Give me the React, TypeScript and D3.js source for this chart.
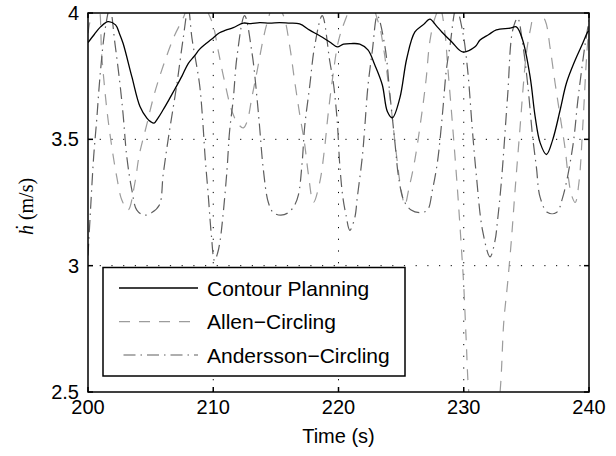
import React from 'react';
import * as d3 from 'd3';

// Axis ticks
const X_TICKS = [200, 210, 220, 230, 240];
const Y_TICKS = [2.5, 3, 3.5, 4];
const Y_TICK_LABELS = ['2.5', '3', '3.5', '4'];

// Contour Planning: time (s) and climb rate (m/s)
const CONTOUR_T = [200.0, 200.5, 201.0, 201.6, 202.2, 202.5, 202.8, 203.5, 204.15, 204.7, 205.0, 205.27, 205.6, 206.0, 206.5, 206.95, 207.5, 208.0, 208.5, 208.9, 209.4, 209.86, 210.5, 211.0, 211.6, 212.4, 213.0, 213.7, 214.5, 215.3, 216.0, 216.9, 217.7, 218.5, 219.3, 219.9, 220.4, 221.0, 221.7, 222.35, 222.9, 223.5, 223.9, 224.3, 224.9, 225.45, 226.1, 226.8, 227.3, 227.8, 228.25, 229.05, 229.9, 230.9, 231.3, 232.0, 232.6, 233.7, 234.2, 234.7, 235.3, 235.7, 236.1, 236.6, 237.1, 237.7, 238.2, 238.9, 239.5, 239.9, 240.0];
const CONTOUR_V = [3.883, 3.915, 3.945, 3.966, 3.953, 3.92, 3.88, 3.748, 3.63, 3.584, 3.57, 3.564, 3.585, 3.617, 3.66, 3.70, 3.75, 3.80, 3.83, 3.856, 3.878, 3.896, 3.922, 3.932, 3.942, 3.96, 3.958, 3.962, 3.96, 3.962, 3.96, 3.957, 3.932, 3.91, 3.885, 3.866, 3.877, 3.879, 3.877, 3.854, 3.794, 3.715, 3.61, 3.585, 3.664, 3.82, 3.925, 3.955, 3.976, 3.95, 3.925, 3.885, 3.846, 3.866, 3.893, 3.915, 3.933, 3.94, 3.945, 3.893, 3.747, 3.59, 3.486, 3.44, 3.498, 3.617, 3.723, 3.814, 3.88, 3.925, 3.93];

// Allen-Circling
const ALLEN_T = [200.0, 200.4, 200.8, 201.1, 201.5, 201.9, 202.3, 202.7, 203.2, 203.75, 204.1, 204.7, 205.3, 206.0, 206.9, 207.6, 208.6, 209.6, 210.0, 210.4, 210.9, 211.5, 212.0, 212.4, 212.7, 213.1, 213.5, 214.0, 214.3, 214.9, 215.6, 216.1, 216.5, 216.9, 217.3, 217.6, 218.0, 218.5, 218.9, 219.15, 219.55, 220.0, 220.6, 221.8, 223.2, 223.6, 224.1, 224.6, 225.0, 225.3, 225.6, 226.1, 226.7, 227.0, 227.3, 227.7, 228.1, 228.5, 228.7, 229.1, 229.5, 229.8, 230.0, 230.2, 230.4, 230.9, 231.7, 232.4, 232.9, 233.2, 233.5, 233.8, 234.1, 234.5, 234.75, 235.0, 235.3, 235.8, 236.5, 236.9, 237.3, 237.7, 238.1, 238.35, 238.6, 238.9, 239.2, 239.5, 239.8, 240.0];
const ALLEN_V = [3.92, 4.01, 4.03, 3.83, 3.62, 3.47, 3.35, 3.26, 3.22, 3.33, 3.44, 3.56, 3.68, 3.79, 3.91, 3.98, 4.1, 4.0, 3.95, 3.85, 3.73, 3.61, 3.56, 3.545, 3.57, 3.67, 3.77, 3.9, 3.96, 4.04, 3.99, 3.87, 3.73, 3.6, 3.48, 3.36, 3.25, 3.33, 3.47, 3.59, 3.75, 3.89, 3.98, 4.12, 3.96, 3.86, 3.67, 3.45, 3.3, 3.24, 3.3, 3.42, 3.62, 3.74, 3.89, 3.98, 4.02, 3.92, 3.8, 3.56, 3.3, 3.08, 2.92, 2.7, 2.5, 2.3, 2.2, 2.3, 2.5, 2.78, 2.93, 3.1, 3.3, 3.55, 3.71, 3.84, 3.93, 4.02, 3.97, 3.86, 3.72, 3.59, 3.46, 3.35, 3.28, 3.25, 3.33, 3.55, 3.82, 3.95];

// Andersson-Circling
const ANDERSSON_T = [200.0, 200.2, 200.45, 200.7, 200.96, 201.35, 201.75, 202.15, 202.55, 202.8, 203.1, 203.5, 203.9, 204.5, 205.1, 205.7, 206.0, 206.4, 207.1, 207.6, 208.0, 208.3, 208.9, 209.15, 209.35, 209.6, 209.85, 210.1, 210.35, 210.55, 210.8, 211.1, 211.3, 211.6, 211.9, 212.5, 213.1, 213.5, 213.7, 214.0, 214.4, 214.8, 215.4, 216.0, 216.5, 216.8, 217.1, 217.3, 217.7, 218.1, 218.7, 219.3, 219.6, 219.9, 220.1, 220.35, 220.6, 220.9, 221.3, 221.5, 221.9, 222.1, 222.35, 222.7, 223.1, 223.7, 224.1, 224.5, 224.8, 225.2, 225.8, 226.5, 227.1, 227.5, 227.9, 228.3, 228.6, 228.9, 229.4, 229.9, 230.3, 230.7, 231.0, 231.5, 232.1, 232.5, 232.7, 233.0, 233.5, 233.9, 234.3, 234.7, 235.1, 235.5, 235.8, 236.1, 236.7, 237.4, 237.9, 238.7, 239.1, 239.4, 239.7, 240.0];
const ANDERSSON_V = [3.04, 3.22, 3.43, 3.58, 3.75, 3.93, 4.02, 3.88, 3.72, 3.6, 3.43, 3.3, 3.22, 3.2, 3.21, 3.24, 3.36, 3.5, 3.72, 3.9, 4.02, 3.9, 3.72, 3.58, 3.43, 3.28, 3.12, 3.02, 3.05, 3.1, 3.21, 3.38, 3.53, 3.66, 3.83, 3.99, 3.84, 3.66, 3.55, 3.38, 3.25, 3.21, 3.2, 3.21, 3.24, 3.28, 3.41, 3.55, 3.71, 3.87, 3.99, 3.81, 3.72, 3.57, 3.4, 3.27, 3.2, 3.14, 3.19, 3.27, 3.43, 3.55, 3.71, 3.85, 3.99, 3.87, 3.68, 3.49, 3.35, 3.26, 3.22, 3.21, 3.22, 3.3, 3.41, 3.6, 3.77, 3.87, 4.02, 3.93, 3.78, 3.53, 3.36, 3.14, 3.035, 3.1, 3.18, 3.33, 3.67, 3.93, 3.98, 3.88, 3.72, 3.51, 3.39, 3.27, 3.21, 3.21, 3.27, 3.47, 3.65, 3.77, 3.88, 3.97];

const LEGEND_LABELS = ['Contour Planning', 'Allen\u2212Circling', 'Andersson\u2212Circling'];

const W = 616;
const H = 456;
const PLOT = { left: 88, right: 589, top: 13, bottom: 392 };

const SANS = '"Liberation Sans", Arial, Helvetica, sans-serif';
const SERIF = '"Liberation Serif", "Times New Roman", serif';

const STYLES = [
  { stroke: '#000000', width: 1.3, dash: undefined as string | undefined },
  { stroke: '#9c9c9c', width: 1.2, dash: '11,9' },
  { stroke: '#5e5e5e', width: 1.2, dash: '12,5,1.5,5' },
];

export default function App() {
  const x = d3.scaleLinear().domain([200, 240]).range([PLOT.left, PLOT.right]);
  const y = d3.scaleLinear().domain([2.5, 4]).range([PLOT.bottom, PLOT.top]);

  const line = d3
    .line<[number, number]>()
    .x((d) => x(d[0]))
    .y((d) => y(d[1]))
    .curve(d3.curveCatmullRom.alpha(0.5));

  const zip = (t: number[], v: number[]) => t.map((ti, i) => [ti, v[i]] as [number, number]);
  const series = [
    zip(CONTOUR_T, CONTOUR_V),
    zip(ALLEN_T, ALLEN_V),
    zip(ANDERSSON_T, ANDERSSON_V),
  ];

  const tick = 5;
  const grid = '1.2,10.5';

  const legend = { x: 103, y: 267.5, w: 302, h: 108.5 };
  const rowY = [288, 321.7, 355];

  return (
    <svg
      width={W}
      height={H}
      style={{ position: 'absolute', left: 0, top: 0, background: '#fff' }}
      xmlns="http://www.w3.org/2000/svg"
    >
      <defs>
        <clipPath id="plot-clip">
          <rect x={PLOT.left} y={PLOT.top} width={PLOT.right - PLOT.left} height={PLOT.bottom - PLOT.top} />
        </clipPath>
      </defs>
      <rect x={0} y={0} width={W} height={H} fill="#fff" />

      {/* grid */}
      <g stroke="#000" strokeWidth={1} strokeDasharray={grid} fill="none">
        {X_TICKS.slice(1, -1).map((t) => (
          <line key={'gx' + t} x1={x(t)} x2={x(t)} y1={PLOT.bottom} y2={PLOT.top} />
        ))}
        {Y_TICKS.slice(1, -1).map((t) => (
          <line key={'gy' + t} x1={PLOT.left} x2={PLOT.right} y1={y(t)} y2={y(t)} />
        ))}
      </g>

      {/* series */}
      <g clipPath="url(#plot-clip)" fill="none">
        {[1, 2, 0].map((i) => (
          <path
            key={'s' + i}
            d={line(series[i]) || ''}
            stroke={STYLES[i].stroke}
            strokeWidth={STYLES[i].width}
            strokeDasharray={STYLES[i].dash}
            strokeLinejoin="round"
          />
        ))}
      </g>

      {/* axes box and ticks */}
      <g stroke="#000" strokeWidth={1.5} fill="none">
        <rect x={PLOT.left} y={PLOT.top} width={PLOT.right - PLOT.left} height={PLOT.bottom - PLOT.top} />
        {X_TICKS.map((t) => (
          <g key={'tx' + t}>
            <line x1={x(t)} x2={x(t)} y1={PLOT.bottom} y2={PLOT.bottom - tick} />
            <line x1={x(t)} x2={x(t)} y1={PLOT.top} y2={PLOT.top + tick} />
          </g>
        ))}
        {Y_TICKS.map((t) => (
          <g key={'ty' + t}>
            <line x1={PLOT.left} x2={PLOT.left + tick} y1={y(t)} y2={y(t)} />
            <line x1={PLOT.right} x2={PLOT.right - tick} y1={y(t)} y2={y(t)} />
          </g>
        ))}
      </g>

      {/* tick labels */}
      <g fontFamily={SANS} fontSize={20} fill="#000">
        {X_TICKS.map((t) => (
          <text key={'lx' + t} x={x(t)} y={PLOT.bottom + 22} textAnchor="middle">
            {t}
          </text>
        ))}
        {Y_TICKS.map((t, i) => (
          <text key={'ly' + t} x={PLOT.left - 9} y={y(t) + 7} textAnchor="end">
            {Y_TICK_LABELS[i]}
          </text>
        ))}
      </g>

      {/* axis titles */}
      <text x={(PLOT.left + PLOT.right) / 2} y={443} textAnchor="middle" fontFamily={SANS} fontSize={20}>
        Time (s)
      </text>
      <text
        transform={`translate(33, ${(PLOT.top + PLOT.bottom) / 2 + 4}) rotate(-90)`}
        textAnchor="middle"
        fontFamily={SERIF}
        fontSize={20}
      >
        <tspan fontStyle="italic">{'\u1E23'}</tspan>
        <tspan>{' (m/s)'}</tspan>
      </text>

      {/* legend */}
      <g>
        <rect x={legend.x} y={legend.y} width={legend.w} height={legend.h} fill="#fff" stroke="#000" strokeWidth={1.5} />
        {LEGEND_LABELS.map((label, i) => (
          <g key={'lg' + i}>
            <line
              x1={119}
              x2={198}
              y1={rowY[i]}
              y2={rowY[i]}
              stroke={STYLES[i].stroke}
              strokeWidth={STYLES[i].width}
              strokeDasharray={STYLES[i].dash}
              strokeDashoffset={i === 2 ? 19 : 0}
            />
            <text x={207} y={rowY[i] + 7.5} fontFamily={SANS} fontSize={21} fill="#000">
              {label}
            </text>
          </g>
        ))}
      </g>
    </svg>
  );
}
